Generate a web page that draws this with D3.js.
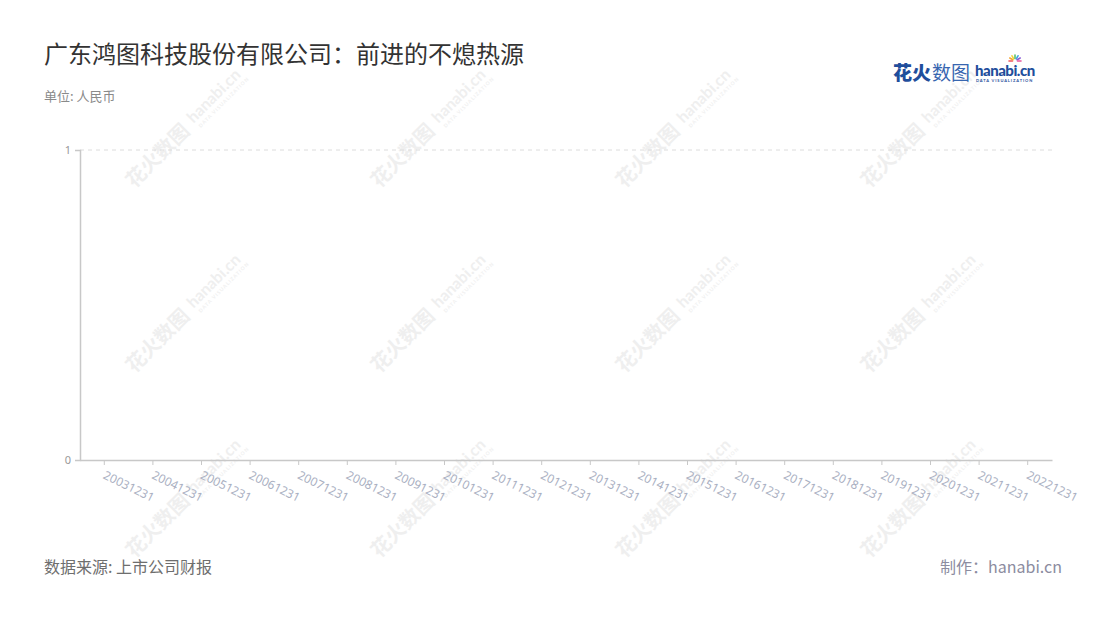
<!DOCTYPE html>
<html><head><meta charset="utf-8">
<script src="https://cdn.jsdelivr.net/npm/d3@7"></script>
<style>
body{margin:0;background:#fff;}
svg{display:block;font-family:"Noto Sans CJK SC","Noto Sans",sans-serif;}
</style></head><body>
<svg id="chart" width="1100" height="620"></svg>
<script>
const title = "广东鸿图科技股份有限公司：前进的不熄热源";
const unitLabel = "单位: 人民币";
const sourceLabel = "数据来源: 上市公司财报";
const creditLabel = "制作：hanabi.cn";
const categories = ["20031231","20041231","20051231","20061231","20071231","20081231","20091231","20101231","20111231","20121231","20131231","20141231","20151231","20161231","20171231","20181231","20191231","20201231","20211231","20221231"];
const values = [null,null,null,null,null,null,null,null,null,null,null,null,null,null,null,null,null,null,null,null];
const yTicks = [0, 1];

const svg = d3.select("#chart");
const W = 1100, H = 620;
const m = {left: 80, right: 48, top: 150, bottom: 160};
const iw = W - m.left - m.right, ih = H - m.top - m.bottom;

// watermarks
const wmX = [183, 428, 673, 918], wmY = [130, 315, 500];
const wm = svg.append("g");
wmY.forEach(y => wmX.forEach(x => {
  const g = wm.append("g").attr("transform", `translate(${x},${y}) rotate(-45)`);
  g.append("text").attr("x", -76).attr("y", 7).attr("font-size", 20).attr("font-weight", 700)
    .attr("fill", "#efefef").text("花火数图");
  g.append("text").attr("x", 12).attr("y", 3).attr("font-size", 16).attr("font-weight", 700)
    .attr("fill", "#efefef").attr("font-family", "Lato, sans-serif").text("hanabi.cn");
  g.append("text").attr("x", 14).attr("y", 11).attr("font-size", 5).attr("font-weight", 700)
    .attr("fill", "#f0f0f0").attr("letter-spacing", 1).attr("font-family", "Lato, sans-serif").text("DATA VISUALIZATION");
}));

// titles
svg.append("text").attr("x", 44).attr("y", 63).attr("font-size", 24).attr("fill", "#333").text(title);
svg.append("text").attr("x", 44).attr("y", 101).attr("font-size", 13).attr("fill", "#8a8a8a").text(unitLabel);
svg.append("text").attr("x", 44).attr("y", 573).attr("font-size", 16).attr("fill", "#6e6e6e").text(sourceLabel);
svg.append("text").attr("x", 1062).attr("y", 573).attr("font-size", 16).attr("fill", "#8c8ca0")
  .attr("text-anchor", "end").text(creditLabel);

// logo
const logo = svg.append("g").attr("transform", "translate(893,80)");
logo.append("text").attr("x", 0).attr("y", 0).attr("font-size", 19).attr("font-weight", 900).attr("fill", "#1f4e9c").text("花火");
logo.append("text").attr("x", 39).attr("y", 0).attr("font-size", 19).attr("fill", "#3866b0").text("数图");
logo.append("text").attr("x", 82).attr("y", -4).attr("font-size", 15).attr("font-weight", 900)
  .attr("font-family", "Lato, sans-serif").attr("fill", "#1f4e9c").attr("letter-spacing", -0.5).text("hanabi.cn");
logo.append("text").attr("x", 83).attr("y", 2).attr("font-size", 4).attr("font-weight", 700)
  .attr("font-family", "Lato, sans-serif").attr("fill", "#1f4e9c").attr("letter-spacing", 0.9).text("DATA VISUALIZATION");
const sparkColors = ["#f2545b","#f7a531","#f5d33b","#5bc16a","#3fa7e0","#8a5cd6","#e8559e"];
sparkColors.forEach((c, i) => {
  const a = -Math.PI + i * Math.PI / 6;
  logo.append("line").attr("x1", 122 + Math.cos(a) * 2.5).attr("y1", -19 + Math.sin(a) * 2.5)
    .attr("x2", 122 + Math.cos(a) * 6).attr("y2", -19 + Math.sin(a) * 6)
    .attr("stroke", c).attr("stroke-width", 1.6).attr("stroke-linecap", "round");
});

// scales
const x = d3.scaleBand().domain(categories).range([m.left, m.left + iw]);
const y = d3.scaleLinear().domain([0, 1]).range([m.top + ih, m.top]);

// grid
svg.append("g").selectAll("line").data(yTicks.filter(t => t > 0)).join("line")
  .attr("x1", m.left).attr("x2", m.left + iw).attr("y1", d => y(d)).attr("y2", d => y(d))
  .attr("stroke", "#dcdcdc").attr("stroke-dasharray", "4,4");

// bars (no data)
svg.append("g").selectAll("rect").data(categories.map((c, i) => ({c, v: values[i]})).filter(d => d.v != null)).join("rect")
  .attr("x", d => x(d.c) + x.bandwidth() * 0.2).attr("width", x.bandwidth() * 0.6)
  .attr("y", d => y(d.v)).attr("height", d => y(0) - y(d.v)).attr("fill", "#5470c6");

// y axis
const ya = svg.append("g").attr("transform", `translate(${m.left},0)`)
  .call(d3.axisLeft(y).tickValues(yTicks).tickFormat(d3.format("d")).tickSize(5).tickPadding(4));
ya.select(".domain").attr("stroke", "#c8c8c8").attr("stroke-width", 1.5);
ya.selectAll(".tick line").attr("stroke", "#c8c8c8");
ya.selectAll(".tick text").attr("fill", "#999").attr("font-size", 11).attr("font-family", "Noto Sans, sans-serif");

// x axis
const xa = svg.append("g").attr("transform", `translate(0,${m.top + ih})`)
  .call(d3.axisBottom(x).tickSize(5).tickSizeOuter(0));
xa.select(".domain").attr("stroke", "#c8c8c8").attr("stroke-width", 1.5);
xa.selectAll(".tick line").attr("stroke", "#c8c8c8");
xa.selectAll(".tick text").attr("fill", "#aab0c2").attr("font-size", 12).attr("font-family", "Noto Sans, sans-serif")
  .attr("text-anchor", "start").attr("dy", 0).attr("y", 0)
  .attr("transform", "translate(-2,18) rotate(26)");
</script></body></html>
